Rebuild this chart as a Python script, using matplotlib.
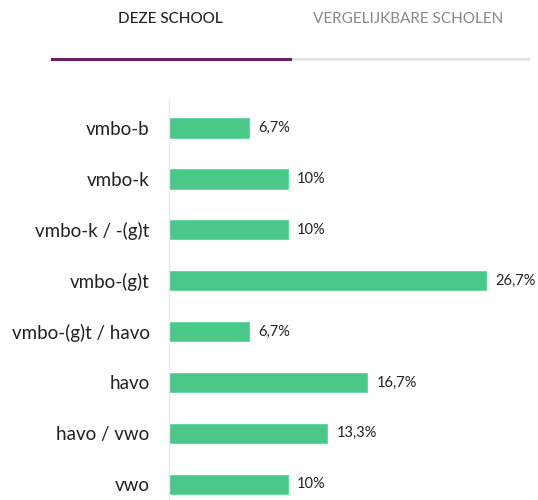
import matplotlib
matplotlib.use("Agg")
import matplotlib.pyplot as plt

plt.rcParams['font.family'] = ['Lato', 'DejaVu Sans']

# data
categories = ['vmbo-b', 'vmbo-k', 'vmbo-k / -(g)t', 'vmbo-(g)t',
              'vmbo-(g)t / havo', 'havo', 'havo / vwo', 'vwo']
values = [6.7, 10, 10, 26.7, 6.7, 16.7, 13.3, 10]
value_labels = ['6,7%', '10%', '10%', '26,7%', '6,7%', '16,7%', '13,3%', '10%']
tabs = ['DEZE SCHOOL', 'VERGELIJKBARE SCHOLEN']

W, H = 538, 500
fig = plt.figure(figsize=(W / 100, H / 100), dpi=100)

# tab header (letter spacing approximated with a slightly bigger font)
fig.text(170 / W, 1 - 19 / H, tabs[0], ha='center', va='center',
         fontsize=11, color='#222222', fontweight='medium')
fig.text(408 / W, 1 - 19 / H, tabs[1], ha='center', va='center',
         fontsize=11, color='#888888')
fig.add_artist(plt.Line2D([290 / W, 528 / W], [1 - 59 / H] * 2,
                          color='#e4e4e4', lw=2.2))
fig.add_artist(plt.Line2D([52 / W, 290 / W], [1 - 59 / H] * 2,
                          color='#6b2060', lw=2.2))

# bar chart
ax = fig.add_axes([169 / W, 0, 1 - 169 / W, 400 / H])
y = list(range(len(categories)))
ax.barh(y, values, height=0.38, color='#49c88a', edgecolor='#5fd49c', linewidth=0.6)
ax.set_xlim(0, (W - 169) / 11.87)
ax.set_ylim(7.31, -0.55)

for yi, v, lab in zip(y, values, value_labels):
    ax.text(v + 0.8, yi, lab, va='center', ha='left', fontsize=10.5, color='#222222')

ax.set_yticks(y)
ax.set_yticklabels(categories, fontsize=13.5, color='#222222')
ax.tick_params(axis='y', length=0, pad=14)
ax.set_xticks([])
for s in ['top', 'right', 'bottom']:
    ax.spines[s].set_visible(False)
ax.spines['left'].set_color('#ece6ec')
ax.spines['left'].set_linewidth(1)

fig.savefig('out.png', dpi=100)
